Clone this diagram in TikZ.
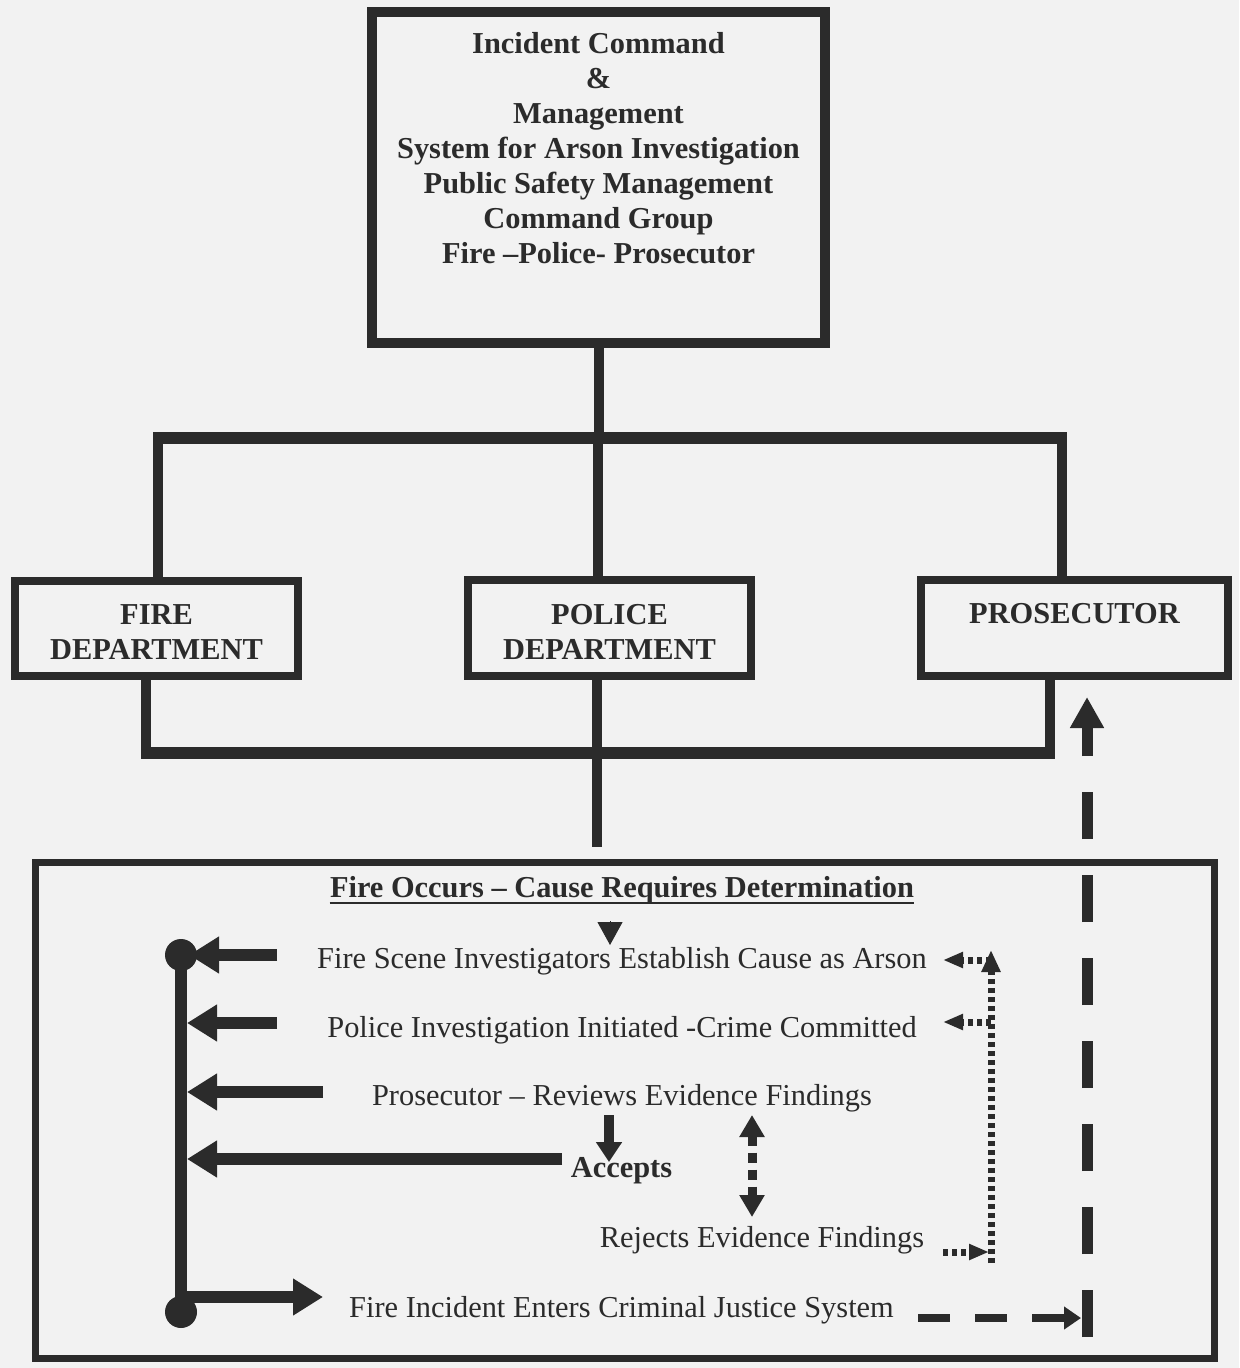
\documentclass[tikz,border=0pt]{standalone}
\usepackage{fontspec}
\setmainfont{Liberation Serif}
\usetikzlibrary{arrows.meta}
\definecolor{ink}{HTML}{2B2B2B}
\definecolor{paper}{HTML}{F2F2F2}
\tikzset{
  txt/.style={text=ink, inner sep=0pt, font=\fontsize{15.2}{17.5}\selectfont},
  btxt/.style={text=ink, inner sep=0pt, font=\fontsize{15.2}{17.5}\selectfont\bfseries},
  box/.style={draw=ink, inner sep=0pt},
  conn/.style={draw=ink, line width=5pt},
  hbar/.style={draw=ink, line width=6pt},
  dot/.style={circle, fill=ink, inner sep=0pt, minimum size=16pt},
  bigarrow/.style={draw=ink, line width=6pt, -{Triangle[length=15pt,width=17.5pt]}},
  downarrow/.style={draw=ink, line width=5pt, -{Triangle[length=10pt,width=12.5pt]}},
  dblarrow/.style={draw=ink, line width=4.5pt, dash pattern=on 5pt off 3.5pt,
     {Triangle[length=11pt,width=12pt]}-{Triangle[length=11pt,width=12pt]}},
  dotline/.style={draw=ink, line width=3.5pt, dash pattern=on 2.5pt off 2pt},
  dashline/.style={draw=ink, line width=4pt, dash pattern=on 16pt off 12.5pt,
     -{Triangle[length=8.5pt,width=11pt]}},
  bigdash/.style={draw=ink, line width=5.5pt, dash pattern=on 23.5pt off 18pt,
     -{Triangle[length=15.5pt,width=16pt]}}
}
\begin{document}
\begin{tikzpicture}[x=0.5pt,y=-0.5pt]
\fill[paper] (0,0) rectangle (1239,1368);
\useasboundingbox (0,0) rectangle (1239,1368);

% top box
\node[box, line width=5pt, minimum width=226.5pt, minimum height=165.5pt] (top) at (598.5,177.5) {};
\node[btxt, align=center, anchor=north] (toptext) at (598.5,32)
  {Incident Command\\\&\\Management\\System for Arson Investigation\\Public Safety Management\\Command Group\\Fire –Police- Prosecutor};

% department boxes
\node[box, line width=4pt, minimum width=141.5pt, minimum height=47.5pt] (fire) at (156.5,628.5) {};
\node[btxt, align=center, anchor=north] (firetext) at (156.5,604) {FIRE\\DEPARTMENT};
\node[box, line width=4pt, minimum width=141.5pt, minimum height=48pt] (police) at (609.5,628) {};
\node[btxt, align=center, anchor=north] (policetext) at (609.5,604) {POLICE\\DEPARTMENT};
\node[box, line width=4pt, minimum width=153.5pt, minimum height=48pt] (pros) at (1074.5,628) {};
\node[btxt, anchor=base] (prostext) at (1074.5,623) {PROSECUTOR};

% upper bracket
\coordinate (hub) at (598,438);
\coordinate (tl) at (158,438);
\coordinate (tr) at (1062,438);
\draw[conn] (top.south) -- (top.south |- hub);
\draw[hbar] ([xshift=-2.5pt]tl) -- ([xshift=2.5pt]tr);
\draw[conn] (tl) -- (tl |- fire.north);
\draw[conn] (hub) -- (hub |- police.north);
\draw[conn] (tr) -- (tr |- pros.north);

% lower bracket
\coordinate (bl) at (146,753);
\coordinate (br) at (1050,753);
\coordinate (pd) at (597,847);
\draw[conn] (bl |- fire.south) -- (bl);
\draw[conn] (br |- pros.south) -- (br);
\draw[hbar] ([xshift=-2.5pt]bl) -- ([xshift=2.5pt]br);
\draw[conn] (pd |- police.south) -- (pd);

% bottom frame
\node[box, line width=3.5pt, minimum width=589.5pt, minimum height=248pt] (frame) at (624.5,1110) {};

% texts
\node[btxt, anchor=base] (t0) at (622,897) {Fire Occurs – Cause Requires Determination};
\draw[ink, line width=1.2pt] ([yshift=-3pt]t0.base west) -- ([yshift=-3pt]t0.base east);
\node[txt, anchor=base] (t1) at (622,968) {Fire Scene Investigators Establish Cause as Arson};
\node[txt, anchor=base] (t2) at (622,1037) {Police Investigation Initiated -Crime Committed};
\node[txt, anchor=base] (t3) at (622,1105) {Prosecutor – Reviews Evidence Findings};
\node[btxt, anchor=base] (t4) at (621.5,1177) {Accepts};
\node[txt, anchor=base] (t5) at (762,1247) {Rejects Evidence Findings};
\node[txt, anchor=base] (t6) at (621.5,1317) {Fire Incident Enters Criminal Justice System};

% small triangle under title
\coordinate (tri1) at (610,921);
\coordinate (tri2) at (610,945);
\draw[ink, line width=0.5pt, -{Triangle[length=11.5pt,width=12.5pt]}] (tri1) -- (tri2);

% left bar with dots
\coordinate (vtop) at (181,955);
\coordinate (vbot) at (181,1312);
\draw[ink, line width=6pt] (vtop) -- (vbot);
\node[dot] (dtop) at (vtop) {};
\node[dot] (dbot) at (vbot) {};

\coordinate (a1s) at (277,955);  \coordinate (a1e) at (189,955);
\coordinate (a2s) at (277,1023); \coordinate (a2e) at (187,1023);
\coordinate (a3s) at (323,1092); \coordinate (a3e) at (187,1092);
\coordinate (a4s) at (562,1159); \coordinate (a4e) at (187,1159);
\coordinate (a5s) at (181,1297); \coordinate (a5e) at (323,1297);
\draw[bigarrow] (a1s) -- (a1e);
\draw[bigarrow] (a2s) -- (a2e);
\draw[bigarrow] (a3s) -- (a3e);
\draw[bigarrow] (a4s) -- (a4e);
\draw[bigarrow] (a5s) -- (a5e);

% accepts arrow
\coordinate (acs) at (609,1115);
\coordinate (ace) at (609,1162);
\draw[downarrow] (acs) -- (ace);

% accept/reject dotted double arrow
\coordinate (ds) at (752,1115);
\coordinate (de) at (752,1217);
\draw[dblarrow] (ds) -- (de);

% dotted loop back
\coordinate (lp0) at (991,1263);
\coordinate (lp1) at (991,950);
\coordinate (lp2) at (991,960);
\coordinate (lp3) at (943,960);
\coordinate (lp4) at (991,1022);
\coordinate (lp5) at (943,1022);
\coordinate (lp6) at (943,1252);
\coordinate (lp7) at (989,1252);
\draw[dotline, -{Triangle[length=11pt,width=9pt]}] (lp0) -- (lp1);
\draw[dotline, -{Triangle[length=10pt,width=7.5pt]}] (lp2) -- (lp3);
\draw[dotline, -{Triangle[length=10pt,width=7.5pt]}] (lp4) -- (lp5);
\draw[dotline, -{Triangle[length=10pt,width=7.5pt]}] (lp6) -- (lp7);

% dashed to prosecutor
\coordinate (cj1) at (918,1318);
\coordinate (cj2) at (1081,1318);
\draw[dashline] (cj1) -- (cj2);
\coordinate (up0) at (1087,1337);
\coordinate (up1) at (1087,697);
\draw[bigdash] (up0) -- (up1);
\end{tikzpicture}
\end{document}
